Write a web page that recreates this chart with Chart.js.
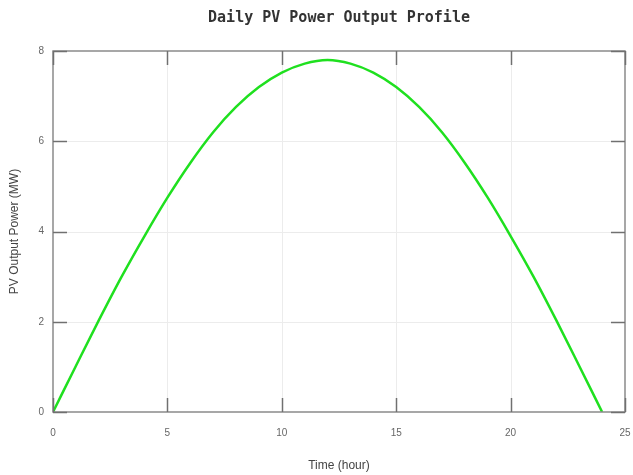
<!DOCTYPE html>
<html>
<head>
<meta charset="utf-8">
<script src="https://cdn.jsdelivr.net/npm/chart.js@4"></script>
<style>
html,body{margin:0;padding:0;background:#fff;}
#wrap{width:633px;height:475px;}
</style>
</head>
<body>
<div id="wrap"><canvas id="c" width="633" height="475"></canvas></div>
<script>
const chartTitle = "Daily PV Power Output Profile";
const xAxisTitle = "Time (hour)";
const yAxisTitle = "PV Output Power (MW)";
const hours = [0,1,2,3,4,5,6,7,8,9,10,11,12,13,14,15,16,17,18,19,20,21,22,23,24];
const powerMW = [0,1.02,2.03,3.0,3.9,4.75,5.52,6.2,6.76,7.2,7.52,7.72,7.8,7.72,7.52,7.2,6.76,6.2,5.52,4.75,3.9,3.0,2.03,1.02,0];
const xRange = [0,25];
const yRange = [0,8];
const xStep = 5;
const yStep = 2;

const frame = {
  id: 'frame',
  beforeDatasetsDraw(chart){
    const {ctx, chartArea:a, scales:{x,y}} = chart;
    ctx.save();
    ctx.strokeStyle = '#ececec';
    ctx.lineWidth = 1;
    x.ticks.forEach(t=>{
      const px = Math.round(x.getPixelForValue(t.value))+0.5;
      if (t.value===xRange[0]||t.value===xRange[1]) return;
      ctx.beginPath(); ctx.moveTo(px,a.top); ctx.lineTo(px,a.bottom); ctx.stroke();
    });
    y.ticks.forEach(t=>{
      const py = Math.round(y.getPixelForValue(t.value))+0.5;
      if (t.value===yRange[0]||t.value===yRange[1]) return;
      ctx.beginPath(); ctx.moveTo(a.left,py); ctx.lineTo(a.right,py); ctx.stroke();
    });
    ctx.restore();
  },
  afterDatasetsDraw(chart){
    const {ctx, chartArea:a, scales:{x,y}} = chart;
    ctx.save();
    ctx.strokeStyle = '#8a8a8a';
    ctx.lineWidth = 1.5;
    ctx.strokeRect(a.left, a.top, a.right-a.left, a.bottom-a.top);
    const L = 14;
    ctx.strokeStyle = '#707070';
    ctx.lineWidth = 1.5;
    x.ticks.forEach(t=>{
      const px = Math.round(x.getPixelForValue(t.value))+0.5;
      ctx.beginPath(); ctx.moveTo(px,a.bottom); ctx.lineTo(px,a.bottom-L); ctx.stroke();
      ctx.beginPath(); ctx.moveTo(px,a.top); ctx.lineTo(px,a.top+L); ctx.stroke();
    });
    y.ticks.forEach(t=>{
      const py = Math.round(y.getPixelForValue(t.value))+0.5;
      ctx.beginPath(); ctx.moveTo(a.left,py); ctx.lineTo(a.left+L,py); ctx.stroke();
      ctx.beginPath(); ctx.moveTo(a.right,py); ctx.lineTo(a.right-L,py); ctx.stroke();
    });
    ctx.fillStyle = '#333';
    ctx.font = 'bold 15px "DejaVu Sans Mono", monospace';
    ctx.textAlign = 'center';
    ctx.textBaseline = 'middle';
    ctx.fillText(chartTitle, (a.left+a.right)/2, 18);
    ctx.restore();
  }
};

new Chart(document.getElementById('c'), {
  type: 'line',
  data: {
    datasets: [{
      data: hours.map((h,i)=>({x:h, y:powerMW[i]})),
      borderColor: '#1fe01f',
      borderWidth: 2.5,
      pointRadius: 0,
      fill: false,
      cubicInterpolationMode: 'monotone'
    }]
  },
  options: {
    responsive: false,
    animation: false,
    layout: { padding: { left: 0, right: 8, top: 51, bottom: 0 } },
    plugins: { legend: { display: false }, tooltip: { enabled: false }, title: { display: false } },
    scales: {
      x: {
        type: 'linear', min: xRange[0], max: xRange[1],
        grid: { display: false, drawTicks: false },
        border: { display: false },
        ticks: { stepSize: xStep, padding: 15, color: '#666', font: { family: 'Liberation Sans', size: 10 }, maxRotation: 0 },
        title: { display: true, text: xAxisTitle, color: '#444', font: { family: 'Liberation Sans', size: 12 }, padding: { top: 0, bottom: 2 } },
        afterFit(s){ s.height = 63; s.paddingLeft = 0; s.paddingRight = 0; }
      },
      y: {
        type: 'linear', min: yRange[0], max: yRange[1],
        grid: { display: false, drawTicks: false },
        border: { display: false },
        ticks: { stepSize: yStep, padding: 9, color: '#666', font: { family: 'Liberation Sans', size: 10 } },
        title: { display: true, text: yAxisTitle, color: '#444', font: { family: 'Liberation Sans', size: 12 }, padding: { top: 7, bottom: 0 } },
        afterFit(s){ s.width = 53; s.paddingTop = 0; s.paddingBottom = 0; }
      }
    }
  },
  plugins: [frame]
});
</script>
</body>
</html>
